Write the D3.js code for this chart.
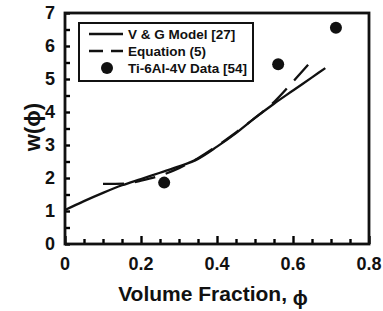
<!DOCTYPE html>
<html>
<head>
<meta charset="utf-8">
<script src="https://cdn.jsdelivr.net/npm/d3@7"></script>
<style>
  body { margin: 0; background: #fff; }
  text { font-family: "Liberation Sans", Arial, sans-serif; font-weight: bold; fill: #111; }
</style>
</head>
<body>
<svg id="chart" width="383" height="311"></svg>
<script>
// V & G model curve [27]
const vgPhi = [0, 0.05, 0.1, 0.15, 0.2, 0.25, 0.3, 0.35, 0.4, 0.45, 0.5, 0.55, 0.6, 0.65, 0.685];
const vgW = [1.03, 1.3, 1.55, 1.78, 1.97, 2.16, 2.35, 2.58, 2.95, 3.36, 3.82, 4.25, 4.65, 5.05, 5.33];

// Equation (5)
const eqPhi = [0.1, 0.16, 0.2, 0.25, 0.3, 0.35, 0.4, 0.45, 0.5, 0.55, 0.6, 0.645];
const eqW = [1.82, 1.83, 1.92, 2.07, 2.3, 2.6, 2.97, 3.38, 3.82, 4.3, 4.92, 5.5];

// Ti-6Al-4V data [54]
const dataPhi = [0.261, 0.561, 0.713];
const dataW = [1.86, 5.45, 6.55];

const xTicks = [0, 0.2, 0.4, 0.6, 0.8];
const yTicks = [0, 1, 2, 3, 4, 5, 6, 7];

const svg = d3.select('#chart');
const margin = { left: 65, right: 14, top: 13, bottom: 67 };
const W = 383, H = 311;

const x = d3.scaleLinear().domain([0, 0.8]).range([margin.left, W - margin.right]);
const y = d3.scaleLinear().domain([0, 7]).range([H - margin.bottom, margin.top]);

// Inward minor/major ticks
const xMinor = d3.range(0, 0.8001, 0.05);
const yMinor = d3.range(0, 7.001, 0.5);

const axX = svg.append('g').attr('transform', `translate(0,${y(0)})`)
  .call(d3.axisTop(x).tickValues(xMinor).tickSize(5).tickFormat(''));
axX.selectAll('line').attr('stroke-width', 2.4)
  .attr('y2', d => (xTicks.some(t => Math.abs(t - d) < 1e-6) ? -8 : -5));
axX.select('.domain').remove();

const axY = svg.append('g').attr('transform', `translate(${x(0)},0)`)
  .call(d3.axisRight(y).tickValues(yMinor).tickSize(5).tickFormat(''));
axY.selectAll('line').attr('stroke-width', 2.4);
axY.select('.domain').remove();

// Frame
svg.append('rect')
  .attr('x', x(0)).attr('y', y(7))
  .attr('width', x(0.8) - x(0)).attr('height', y(0) - y(7))
  .attr('fill', 'none').attr('stroke', '#111').attr('stroke-width', 2.8);

// Tick labels
svg.append('g').selectAll('text').data(xTicks).join('text')
  .attr('x', d => x(d)).attr('y', 270)
  .attr('text-anchor', 'middle').attr('font-size', 18)
  .text(d => d === 0 ? '0' : d3.format('.1f')(d));

svg.append('g').selectAll('text').data(yTicks).join('text')
  .attr('x', 55).attr('y', d => y(d)).attr('dy', '0.36em')
  .attr('text-anchor', 'end').attr('font-size', 18)
  .text(d => d);

// Axis titles
const xt = svg.append('text').attr('x', 213).attr('y', 301)
  .attr('text-anchor', 'middle').attr('font-size', 21);
xt.append('tspan').text('Volume Fraction, ');
xt.append('tspan').attr('font-size', 20).attr('dy', 4).text('ϕ');

svg.append('text')
  .attr('transform', 'translate(40,127) rotate(-90)')
  .attr('text-anchor', 'middle').attr('font-size', 22)
  .text('w(ϕ)');

// Curves
const line = d3.line().curve(d3.curveMonotoneX).x(d => x(d[0])).y(d => y(d[1]));

svg.append('path').datum(d3.zip(vgPhi, vgW))
  .attr('d', line).attr('fill', 'none')
  .attr('stroke', '#111').attr('stroke-width', 2.3);

svg.append('path').datum(d3.zip(eqPhi, eqW))
  .attr('d', line).attr('fill', 'none')
  .attr('stroke', '#111').attr('stroke-width', 2.3)
  .attr('stroke-dasharray', '21,11');

svg.append('g').selectAll('circle').data(d3.zip(dataPhi, dataW)).join('circle')
  .attr('cx', d => x(d[0])).attr('cy', d => y(d[1])).attr('r', 6)
  .attr('fill', '#111');

// Legend
const legend = svg.append('g');
legend.append('rect')
  .attr('x', 79).attr('y', 23).attr('width', 174).attr('height', 58)
  .attr('fill', '#fff').attr('stroke', '#111').attr('stroke-width', 2);

const rows = [
  { label: 'V & G Model [27]', type: 'solid' },
  { label: 'Equation (5)', type: 'dash' },
  { label: 'Ti-6Al-4V Data [54]', type: 'dot' }
];
rows.forEach((r, i) => {
  const cy = 34 + i * 17;
  if (r.type === 'dot') {
    legend.append('circle').attr('cx', 107).attr('cy', cy).attr('r', 6).attr('fill', '#111');
  } else {
    legend.append('line').attr('x1', 89).attr('x2', 123).attr('y1', cy).attr('y2', cy)
      .attr('stroke', '#111').attr('stroke-width', 2.3)
      .attr('stroke-dasharray', r.type === 'dash' ? '14,8' : null);
  }
  legend.append('text').attr('x', 128).attr('y', cy).attr('dy', '0.36em')
    .attr('font-size', 13.5).text(r.label);
});
</script>
</body>
</html>
